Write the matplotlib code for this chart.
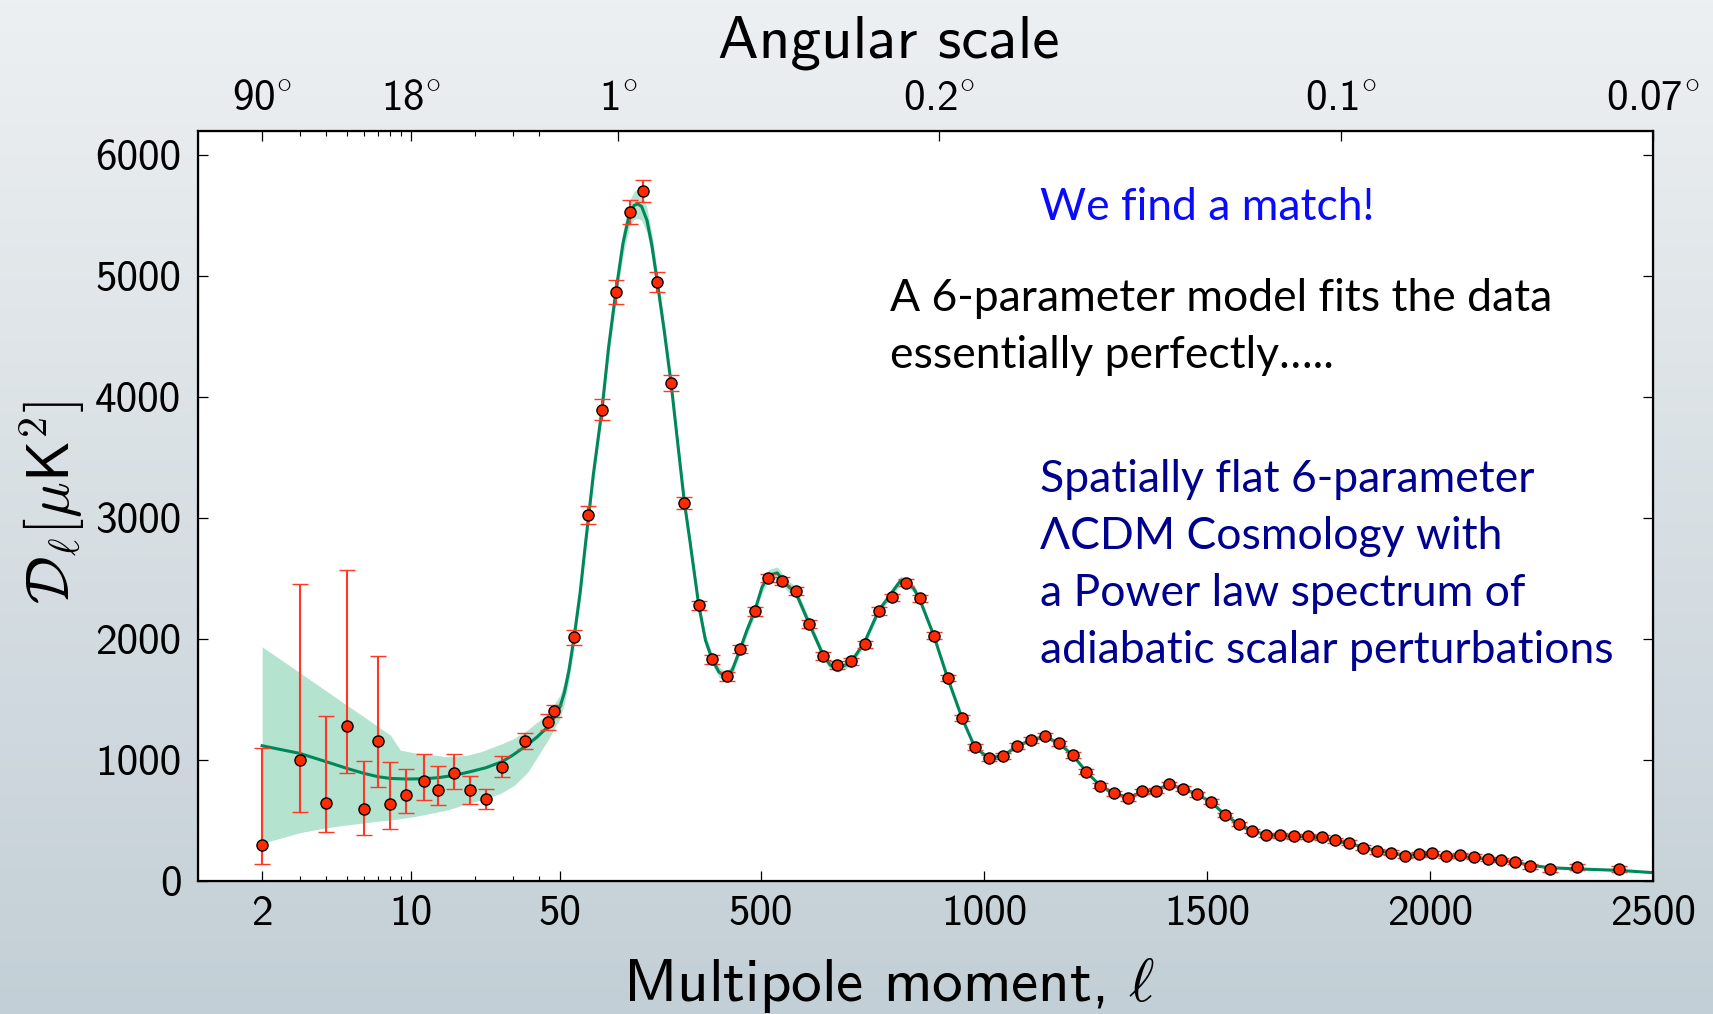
import numpy as np
import matplotlib
matplotlib.use("Agg")
import matplotlib.pyplot as plt
from matplotlib.ticker import FixedLocator, NullFormatter

plt.rcParams["mathtext.fontset"] = "cm"
plt.rcParams["axes.unicode_minus"] = False

AX_FONT = "cmss10"
NOTE_FONT = "Lato"

# ---------------------------------------------------------------------------
# Binned low-multipole band powers (ell < 50), asymmetric errors
ell_low = [2, 3, 4, 5, 6, 7, 8, 9.5, 11.5, 13.4, 15.9, 18.9, 22.4, 26.7, 34.2, 43.9, 46.7]
dl_low = [295, 1002, 642, 1280, 595, 1157, 634, 708, 829, 752, 890, 752, 675, 939, 1159, 1316, 1404]
err_low_minus = [157, 434, 240, 385, 218, 380, 207, 144, 162, 124, 127, 113, 83, 80, 71, 71, 52]
err_low_plus = [801, 1451, 718, 1289, 399, 702, 347, 220, 220, 201, 157, 113, 88, 96, 66, 64, 53]

# Binned high-multipole band powers
ell_high = [81, 113, 144, 175, 206, 237, 268, 299, 329,
            361, 391, 424, 454, 486, 516, 547, 578, 609, 640,
            671, 702, 733, 764, 795, 826, 857, 888, 919, 951,
            980, 1012, 1043, 1075, 1106, 1137, 1168, 1199, 1230, 1261,
            1292, 1323, 1354, 1385, 1416, 1447, 1478, 1509, 1541, 1571,
            1602, 1633, 1664, 1695, 1726, 1757, 1788, 1819, 1849, 1881,
            1912, 1943, 1975, 2005, 2037, 2067, 2098, 2130, 2160, 2191,
            2225, 2269, 2329, 2424]
dl_high = [2013, 3026, 3896, 4868, 5529, 5705, 4953, 4114, 3125,
           2280, 1834, 1691, 1919, 2228, 2503, 2481, 2396, 2123, 1861,
           1784, 1815, 1958, 2233, 2344, 2465, 2338, 2027, 1677, 1349,
           1106, 1015, 1032, 1118, 1167, 1200, 1137, 1041, 903, 787,
           727, 683, 743, 746, 801, 762, 716, 655, 545, 471,
           413, 380, 378, 369, 369, 361, 336, 315, 274, 245,
           234, 209, 220, 229, 207, 212, 201, 182, 173, 157,
           121, 97, 118, 97]
err_high = [59, 72, 87, 97, 100, 93, 80, 66, 47,
            38, 36, 35, 35, 35, 35, 34, 34, 33, 32,
            31, 31, 30, 30, 30, 30, 29, 28, 27, 26,
            25, 24, 24, 24, 23, 23, 23, 22, 22, 21,
            21, 21, 20, 20, 20, 20, 20, 20, 20, 20,
            20, 20, 20, 20, 20, 20, 20, 20, 20, 20,
            20, 20, 20, 20, 20, 20, 20, 20, 20, 20,
            21, 22, 23, 24]

# Best-fit six-parameter LCDM spectrum
ell_model = [2, 3, 4, 5, 6, 7, 8, 9.5, 11.5, 13.4, 15.9, 18.9, 22.4, 26.7, 30, 34.2,
             39, 43.9, 47, 50, 60, 70, 81, 95, 108, 125, 144, 159, 175, 191, 206,
             216, 224, 233, 245, 256, 268, 284, 299, 314, 329, 341, 361, 376, 391,
             406, 421, 436, 454, 469, 486, 503, 518, 537, 547, 563, 578, 609, 640,
             656, 674, 694, 713, 733, 764, 795, 814, 826, 843, 857, 888, 919, 951,
             980, 1012, 1043, 1075, 1106, 1137, 1168, 1199, 1230, 1261, 1292, 1323,
             1354, 1385, 1416, 1447, 1478, 1509, 1541, 1571, 1602, 1633, 1664, 1695,
             1726, 1757, 1788, 1819, 1849, 1881, 1912, 1943, 1975, 2005, 2037, 2067,
             2098, 2130, 2160, 2191, 2225, 2269, 2329, 2424, 2500]
dl_model = [1118, 1055, 986, 931, 890, 862, 848, 843, 845, 854, 873, 903, 936, 986, 1040, 1110,
            1190, 1275, 1350, 1440, 1560, 1740, 2000, 2380, 2817, 3368, 3896, 4414, 4868, 5268, 5521,
            5584, 5598, 5576, 5461, 5254, 4953, 4538, 4114, 3616, 3125, 2817, 2280, 1991, 1834,
            1729, 1688, 1743, 1919, 2073, 2228, 2431, 2528, 2547, 2500, 2431, 2390, 2123, 1866,
            1784, 1757, 1793, 1867, 1977, 2233, 2390, 2487, 2473, 2418, 2322, 2027, 1677, 1349,
            1104, 1015, 1035, 1115, 1167, 1195, 1140, 1041, 903, 787, 727, 690,
            735, 755, 795, 765, 716, 655, 545, 471, 413, 385, 375, 368,
            365, 358, 336, 312, 280, 250, 233, 215, 215, 215, 208, 204,
            196, 183, 170, 155, 130, 110, 100, 88, 69]

# Cosmic-variance band: explicit edges below ell = 50 ...
ell_band_low = [2, 3, 4, 5, 6, 7, 8, 8.9, 10.3, 14.8, 18.4, 21.2, 26.3, 30.5, 35.3, 43.9, 50]
band_low_lower = [311, 399, 440, 463, 480, 495, 504, 515, 531, 587, 640, 669, 724, 790, 900, 1165, 1345]
band_low_upper = [1936, 1723, 1571, 1453, 1358, 1276, 1206, 1082, 1060, 1027, 1040, 1068, 1130, 1179, 1250, 1385, 1535]
# ... and half-widths about the model above it
ell_band_high = [50, 100, 150, 224, 300, 420, 540, 680, 815, 1000, 1500, 2500]
band_high_halfwidth = [95, 70, 75, 120, 60, 40, 50, 30, 35, 15, 10, 6]

# Axis tick values and labels
ell_ticks = [2, 10, 50, 500, 1000, 1500, 2000, 2500]
ell_minor = [3, 4, 5, 6, 7, 8, 9, 20, 30, 40]
angle_ticks = [2, 10, 180, 900, 1800, 2500]
angle_labels = ["90", "18", "1", "0.2", "0.1", "0.07"]
dl_ticks = [0, 1000, 2000, 3000, 4000, 5000, 6000]

notes_black = ["A 6-parameter model fits the data", "essentially perfectly\u2026.."]
notes_navy = ["Spatially flat 6-parameter", "\u039bCDM Cosmology with",
              "a Power law spectrum of", "adiabatic scalar perturbations"]

# ---------------------------------------------------------------------------
# Hybrid multipole axis: logarithmic below ell = 50, linear above
LOG_SPAN = 477.6


def fwd(x):
    x = np.asarray(x, dtype=float)
    xl = np.clip(x, 1e-6, None)
    return np.where(x > 50, x - 50, LOG_SPAN * np.log10(xl / 50.0))


def inv(y):
    y = np.asarray(y, dtype=float)
    return np.where(y > 0, y + 50, 50.0 * 10 ** (np.minimum(y, 0) / LOG_SPAN))


W, H = 1713, 1014
fig = plt.figure(figsize=(W / 100, H / 100), dpi=100)

# soft grey-blue backdrop
bg = fig.add_axes([0, 0, 1, 1], zorder=-10)
top_c = np.array([237, 240, 242]) / 255.0
bot_c = np.array([195, 207, 214]) / 255.0
t = np.linspace(0, 1, 256)[:, None, None]
grad = top_c[None, None, :] * (1 - t) + bot_c[None, None, :] * t
bg.imshow(grad, aspect="auto", extent=[0, 1, 0, 1], origin="upper")
bg.axis("off")

ax = fig.add_axes([198 / W, 1 - 881 / H, (1653 - 198) / W, (881 - 131) / H])
ax.set_facecolor("white")
ax.set_xscale("function", functions=(fwd, inv))
ax.set_xlim(1, 2500)
ax.set_ylim(0, 6200)

# band
ax.fill_between(ell_band_low, band_low_lower, band_low_upper,
                color="#b4e3d0", lw=0, zorder=1)
m_ell = np.array(ell_model, dtype=float)
m_dl = np.array(dl_model, dtype=float)
hi_mask = m_ell >= 50
hw = np.interp(m_ell[hi_mask], ell_band_high, band_high_halfwidth)
ax.fill_between(m_ell[hi_mask], m_dl[hi_mask] - hw, m_dl[hi_mask] + hw,
                color="#b4e3d0", lw=0, zorder=1)

# model
ax.plot(ell_model, dl_model, color="#00875a", lw=2.2, zorder=2, solid_joinstyle="round")

# data
ekw = dict(fmt="o", ms=8.0, mfc="#ff2a00", mec="black", mew=1.0,
           ecolor="#ff3826", elinewidth=1.5, capsize=5.5, capthick=1.5, zorder=4)
ax.errorbar(ell_low, dl_low, yerr=[err_low_minus, err_low_plus], **ekw)
ax.errorbar(ell_high, dl_high, yerr=err_high, **ekw)

# bottom / left axes
ax.xaxis.set_major_locator(FixedLocator(ell_ticks))
ax.xaxis.set_minor_locator(FixedLocator(ell_minor))
ax.xaxis.set_minor_formatter(NullFormatter())
ax.set_xticklabels([str(v) for v in ell_ticks])
ax.yaxis.set_major_locator(FixedLocator(dl_ticks))
ax.set_yticklabels([str(v) for v in dl_ticks])
ax.tick_params(which="major", direction="in", length=7.5, width=0.9,
               top=False, right=True, labelsize=31, pad=10)
ax.tick_params(axis="x", which="minor", direction="in", length=3.8, width=0.8, top=False)
for lab in ax.get_xticklabels() + ax.get_yticklabels():
    lab.set_fontfamily(AX_FONT)
ax.tick_params(axis="y", pad=12)
for s in ax.spines.values():
    s.set_linewidth(1.6)

# top angular-scale axis
ax2 = ax.twiny()
ax2.set_xscale("function", functions=(fwd, inv))
ax2.set_xlim(ax.get_xlim())
ax2.xaxis.set_major_locator(FixedLocator(angle_ticks))
ax2.xaxis.set_minor_locator(FixedLocator(ell_minor))
ax2.xaxis.set_minor_formatter(NullFormatter())
ax2.set_xticklabels([lab + r"$^{\circ}$" for lab in angle_labels])
ax2.tick_params(which="major", direction="in", length=7.5, width=0.9, labelsize=31, pad=9)
ax2.tick_params(which="minor", direction="in", length=3.8, width=0.8)
for lab in ax2.get_xticklabels():
    lab.set_fontfamily(AX_FONT)

# axis titles
fig.text(889 / W, 1 - 57 / H, "Angular scale", fontsize=44, family=AX_FONT,
         ha="center", va="baseline")
fig.text(889 / W, 1 - 1001 / H, r"Multipole moment, $\ell$", fontsize=44, family=AX_FONT,
         ha="center", va="baseline")
fig.text(52 / W, 1 - 503 / H, r"$\mathcal{D}_\ell[\mu\mathsf{K}^2]$", fontsize=43,
         rotation=90, ha="center", va="center")

# annotations
NOTE_SIZE = 32
fig.text(1040 / W, 1 - 220 / H, "We find a match!", fontsize=NOTE_SIZE, family=NOTE_FONT,
         color="#0a0aff", ha="left", va="baseline")
for i, line in enumerate(notes_black):
    fig.text(890 / W, 1 - (311 + 57 * i) / H, line, fontsize=NOTE_SIZE, family=NOTE_FONT,
             color="black", ha="left", va="baseline")
for i, line in enumerate(notes_navy):
    fig.text(1040 / W, 1 - (492 + 57 * i) / H, line, fontsize=NOTE_SIZE, family=NOTE_FONT,
             color="#00008f", ha="left", va="baseline")

fig.savefig("out.png", dpi=100)
